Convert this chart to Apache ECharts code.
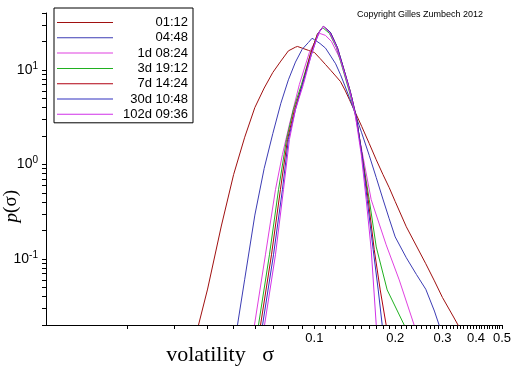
<!DOCTYPE html>
<html>
<head>
<meta charset="utf-8">
<script src="https://cdn.jsdelivr.net/npm/echarts@6/dist/echarts.min.js"></script>
<style>html,body{margin:0;padding:0;background:#fff}#c{width:512px;height:366px}</style>
</head>
<body>
<div id="c"></div>
<script>
// ---- data ----
const seriesNames = ['01:12', '04:48', '1d 08:24', '3d 19:12', '7d 14:24', '30d 10:48', '102d 09:36'];
const seriesColors = ['#a01010', '#3c3cb4', '#e040e0', '#20b020', '#b00010', '#3030c0', '#d030e8'];

const x1 = [0.037,0.04,0.045,0.05,0.055,0.06,0.065,0.07,0.075,0.08,0.085,0.0865,0.09,0.095,0.1,0.105,0.11,0.115,0.12,0.125,0.13,0.135,0.14,0.15,0.16,0.17,0.18,0.19,0.2,0.22,0.24,0.26,0.28,0.3,0.33,0.35];
const y1 = [0.02,0.048,0.223,0.78,1.94,4.0,6.43,9.4,12.4,15.9,17.4,17.7,17.0,16.1,15.3,13.2,11.4,9.9,8.63,7.55,6.12,4.86,3.88,2.53,1.67,1.12,0.783,0.568,0.405,0.219,0.137,0.089,0.0586,0.0391,0.0243,0.018];

const x2 = [0.0517,0.055,0.06,0.065,0.07,0.075,0.08,0.085,0.09,0.095,0.098,0.1,0.105,0.11,0.115,0.12,0.125,0.13,0.135,0.14,0.15,0.16,0.17,0.18,0.19,0.2,0.22,0.24,0.26,0.28,0.2915,0.30];
const y2 = [0.02,0.061,0.291,0.908,2.12,4.44,7.85,12.1,16.5,19.5,21.6,20.9,19.0,17.0,14.0,11.6,8.95,6.76,5.10,3.84,2.16,1.25,0.726,0.430,0.266,0.171,0.103,0.0684,0.0478,0.0281,0.02,0.018];

const x3 = [0.0598,0.0657,0.0716,0.0760,0.0807,0.0879,0.0958,0.1044,0.1099,0.1157,0.1260,0.1384,0.1495,0.1628,0.1851,0.2070,0.2353];
const y3 = [0.020,0.1105,0.540,1.270,2.642,7.02,15.33,24.4,23.2,20.05,12.3,4.86,1.507,0.423,0.141,0.060,0.020];

const x4 = [0.0619,0.0680,0.0735,0.0787,0.0835,0.0895,0.0966,0.1026,0.1071,0.1137,0.1207,0.1271,0.1349,0.1432,0.1508,0.1601,0.1700,0.1867,0.2161];
const y4 = [0.020,0.1105,0.540,1.832,3.811,7.02,14.6,23.8,28.2,24.4,17.3,10.6,5.91,3.13,1.209,0.423,0.134,0.047,0.020];

const x5 = [0.0630,0.0692,0.0747,0.0794,0.0843,0.0902,0.0966,0.1026,0.1080,0.1147,0.1218,0.1282,0.1361,0.1432,0.1508,0.1587,0.1671,0.1759,0.1851];
const y5 = [0.020,0.1105,0.540,1.832,3.811,7.02,14.6,23.8,28.9,25.0,17.3,10.6,5.91,3.21,1.209,0.423,0.125,0.047,0.020];

const x6 = [0.0641,0.0704,0.0760,0.0800,0.0850,0.0902,0.0975,0.1035,0.1080,0.1147,0.1218,0.1282,0.1361,0.1432,0.1508,0.1573,0.1656,0.1729,0.1789];
const y6 = [0.020,0.1105,0.540,1.832,3.811,7.02,14.6,24.4,28.9,25.0,17.3,10.6,5.91,3.21,1.209,0.423,0.125,0.047,0.020];

const x7 = [0.0652,0.0716,0.0767,0.0807,0.0850,0.0910,0.0975,0.1035,0.1080,0.1137,0.1207,0.1271,0.1349,0.1420,0.1495,0.1560,0.1628,0.1700];
const y7 = [0.020,0.1105,0.540,1.832,3.811,7.02,14.6,24.4,28.9,25.0,17.7,10.9,6.21,3.37,1.270,0.423,0.125,0.020];

const xLabelValues = [0.1, 0.2, 0.3, 0.4, 0.5];
const yLabelValues = [0.1, 1, 10];
const xTickValues = [0.02,0.03,0.04,0.05,0.06,0.07,0.08,0.09,
  0.1,0.11,0.12,0.13,0.14,0.15,0.16,0.17,0.18,0.19,
  0.2,0.21,0.22,0.23,0.24,0.25,0.26,0.27,0.28,0.29,
  0.3,0.31,0.32,0.33,0.34,0.35,0.36,0.37,0.38,0.39,
  0.4,0.41,0.42,0.43,0.44,0.45,0.46,0.47,0.48,0.49,0.5];
const yTickValues = [0.02,0.03,0.04,0.05,0.06,0.07,0.08,0.09,
  0.1,0.2,0.3,0.4,0.5,0.6,0.7,0.8,0.9,
  1,2,3,4,5,6,7,8,9,10,20,30,40];

const xs = [x1, x2, x3, x4, x5, x6, x7];
const ys = [y1, y2, y3, y4, y5, y6, y7];

const chart = echarts.init(document.getElementById('c'), null, {renderer: 'canvas'});
const sans = 'Liberation Sans, Arial, sans-serif';
const serif = 'Liberation Serif, Times New Roman, serif';

chart.setOption({
  animation: false,
  backgroundColor: '#ffffff',
  color: seriesColors,
  title: {
    text: 'Copyright Gilles Zumbech 2012',
    left: 357, top: 10, padding: 0,
    textStyle: {fontFamily: sans, fontSize: 9, fontWeight: 'normal', color: '#000'}
  },
  legend: {
    orient: 'vertical',
    left: 54, top: 8,
    padding: [8, 5, 2, 3],
    itemGap: 2.3,
    itemWidth: 56, itemHeight: 1,
    icon: 'rect',
    borderColor: '#000', borderWidth: 1,
    backgroundColor: '#fff',
    data: seriesNames.map((n, i) => ({name: n, itemStyle: {color: seriesColors[i]}})),
    formatter: name => '{t|' + name + '}',
    textStyle: {
      fontFamily: sans, fontSize: 13, color: '#000',
      rich: {t: {fontFamily: sans, fontSize: 13, color: '#000', width: 70, align: 'right'}}
    }
  },
  grid: {left: 46, right: 10, top: 13, bottom: 41, containLabel: false, outerBoundsMode: 'none'},
  xAxis: {
    type: 'log', logBase: 10, min: 0.01, max: 0.5,
    name: 'volatility   σ', nameLocation: 'middle', nameGap: 19, nameMoveOverlap: false,
    nameTextStyle: {fontFamily: serif, fontSize: 22, color: '#000', align: 'right'},
    axisLine: {show: true, lineStyle: {color: '#000', width: 1}},
    axisTick: {show: true, inside: false, length: 4, customValues: xTickValues, lineStyle: {color: '#000', width: 1}},
    axisLabel: {show: true, margin: 7, customValues: xLabelValues, fontFamily: sans, fontSize: 13, color: '#000',
      formatter: v => String(+v.toFixed(2))},
    splitLine: {show: false},
    minorTick: {show: false}
  },
  yAxis: {
    type: 'log', logBase: 10, min: 0.02, max: 40,
    name: '{i|p}(σ)', nameLocation: 'middle', nameRotate: 90, nameGap: 25, nameMoveOverlap: false,
    nameTextStyle: {fontFamily: serif, fontSize: 19, color: '#000', align: 'right', padding: [0, 21, 0, 0],
      rich: {i: {fontFamily: serif, fontSize: 19, fontStyle: 'italic', color: '#000'}}},
    axisLine: {show: true, lineStyle: {color: '#000', width: 1}},
    axisTick: {show: true, inside: false, length: 4, customValues: yTickValues, lineStyle: {color: '#000', width: 1}},
    axisLabel: {show: true, margin: 8, customValues: yLabelValues, color: '#000',
      formatter: v => '{b|10}{s|' + Math.round(Math.log10(v)) + '}',
      rich: {
        b: {fontFamily: sans, fontSize: 14, color: '#000', lineHeight: 18},
        s: {fontFamily: sans, fontSize: 10, color: '#000', lineHeight: 10, verticalAlign: 'top'}
      }},
    splitLine: {show: false},
    minorTick: {show: false}
  },
  series: seriesNames.map((name, i) => ({
    name: name,
    type: 'line',
    color: seriesColors[i],
    data: xs[i].map((x, k) => [x, ys[i][k]]),
    showSymbol: false,
    symbol: 'none',
    clip: true,
    lineStyle: {color: seriesColors[i], width: 1},
    itemStyle: {color: seriesColors[i]},
    emphasis: {disabled: true}
  }))
});
</script>
</body>
</html>
